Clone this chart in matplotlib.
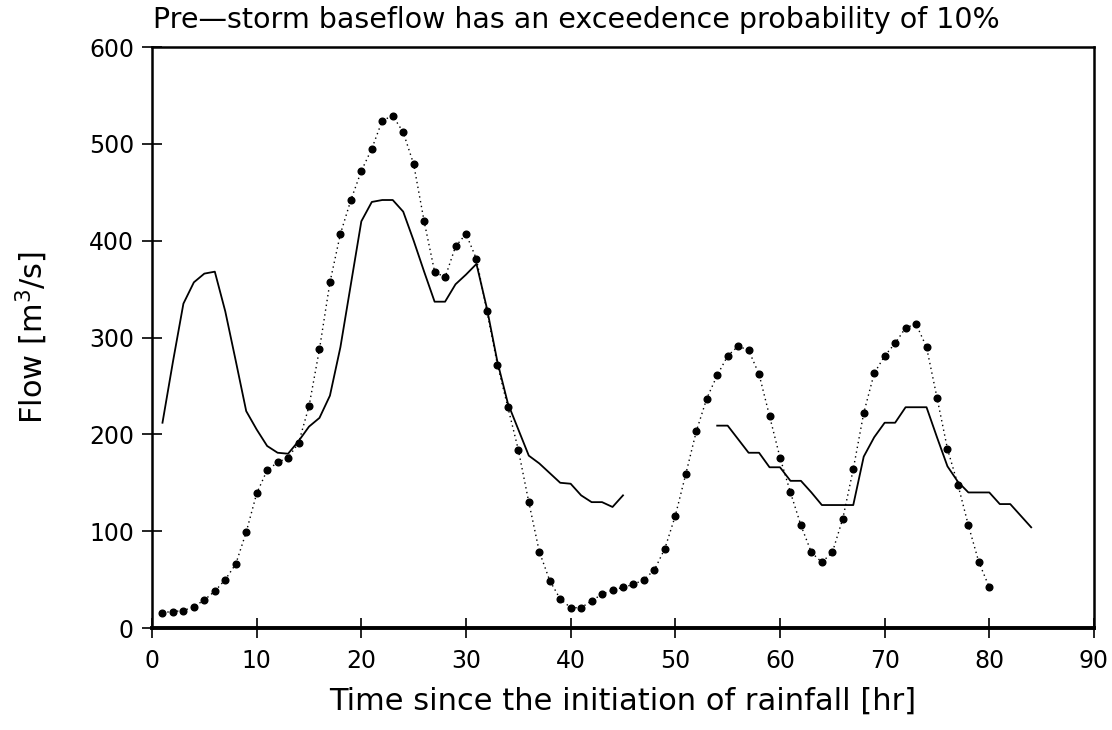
import numpy as np
import matplotlib
matplotlib.use('Agg')
import matplotlib.pyplot as plt

# dotted series: hourly values, hours 1..80
dot_hours = list(range(1, 81))
dot_flow = [16, 17, 18, 22, 29, 38, 50, 66, 99, 139,
            163, 171, 176, 191, 229, 288, 357, 407, 442, 472,
            495, 524, 529, 512, 479, 420, 368, 362, 394, 407,
            381, 327, 272, 228, 184, 130, 79, 49, 30, 21,
            21, 28, 35, 39, 42, 45, 50, 60, 82, 116,
            159, 203, 237, 261, 281, 291, 287, 262, 219, 176,
            140, 106, 78, 68, 78, 113, 164, 222, 263, 281,
            294, 310, 314, 290, 238, 185, 148, 106, 68, 42]

# solid series, first storm (hours 1..45)
solid1_hours = list(range(1, 46))
solid1_flow = [212, 275, 335, 357, 366, 368, 327, 276, 224, 205,
               188, 181, 180, 193, 208, 217, 240, 290, 355, 420,
               440, 442, 442, 430, 400, 368, 337, 337, 355, 365,
               376, 330, 275, 232, 205, 178, 170, 160, 150, 149,
               137, 130, 130, 125, 137]

# solid series, second storm (hours 54..84)
solid2_hours = list(range(54, 85))
solid2_flow = [209, 209, 195, 181, 181, 166, 166, 152, 152, 140,
               127, 127, 127, 127, 177, 197, 212, 212, 228, 228,
               228, 197, 167, 151, 140, 140, 140, 128, 128, 116,
               104]

plt.rcParams['font.family'] = ['DejaVu Sans']

fig = plt.figure(figsize=(11.12, 7.30), dpi=100)
ax = fig.add_axes([0.1367, 0.1397, 0.8471, 0.7959])

ax.plot(dot_hours, dot_flow, color='black', linestyle=(0, (1, 2.5)),
        linewidth=1.0, marker='o', markersize=4.8)
ax.plot(solid1_hours, solid1_flow, color='black', linewidth=1.3)
ax.plot(solid2_hours, solid2_flow, color='black', linewidth=1.3)

ax.set_xlim(0, 90)
ax.set_ylim(0, 600)
ax.set_xticks(range(0, 91, 10))
ax.set_yticks(range(0, 601, 100))

for side in ['left', 'right', 'top']:
    ax.spines[side].set_linewidth(1.8)
ax.spines['bottom'].set_linewidth(2.8)

ax.tick_params(direction='inout', length=14, width=1.2, labelsize=17,
               pad=6)
ax.tick_params(axis='x', pad=8)

ax.set_xlabel('Time since the initiation of rainfall [hr]', fontsize=22,
              labelpad=10)
ax.set_ylabel('Flow [m$^3$/s]', fontsize=22, labelpad=28)
fig.text(0.138, 0.972, 'Pre\u2014storm baseflow has an exceedence probability of 10%',
         fontsize=20.5, ha='left', va='center')

fig.savefig('out.png', dpi=100)
